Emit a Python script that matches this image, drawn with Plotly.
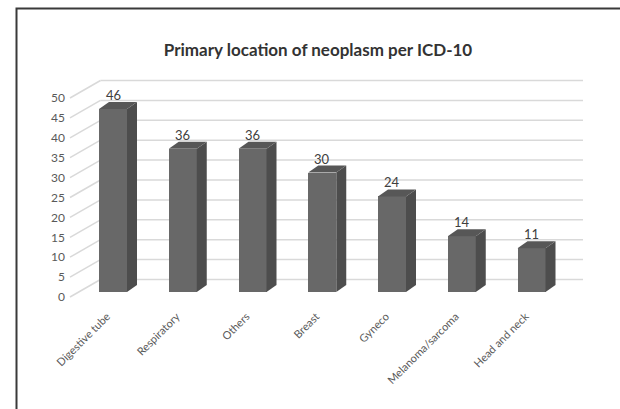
import plotly.graph_objects as go

# --- data -------------------------------------------------------------
categories = ["Digestive tube", "Respiratory", "Others", "Breast",
              "Gyneco", "Melanoma/sarcoma", "Head and neck"]
counts = [46, 36, 36, 30, 24, 14, 11]
y_ticks = [0, 5, 10, 15, 20, 25, 30, 35, 40, 45, 50]

# --- geometry (pseudo-3D column chart drawn on a 2D axis) -------------
W, H = 620, 409
M_L, M_R, M_T, M_B = 66, 30, 70, 108
PX_X = 69.75          # pixels per category
PX_Y = 3.98           # pixels per unit
plot_w = W - M_L - M_R
plot_h = H - M_T - M_B
x_min = -47 / PX_X
x_max = x_min + plot_w / PX_X
y_max = 227 / PX_Y
y_min = y_max - plot_h / PX_Y

bar_w = 28 / PX_X
depth_x = 10 / PX_X
depth_y = 7 / PX_Y
bar_base = 5 / PX_Y           # columns stand slightly behind the front edge
wall_dx = 30.5 / PX_X         # offset of the back wall
wall_dy = 17.5 / PX_Y
floor_left = -43 / PX_X
wall_right = 470 / PX_X

FRONT = "#686868"
SIDE = "#4d4d4d"
TOP = "#575757"
GRID = "#d9d9d9"
TEXT = "#595959"

xs = list(range(len(categories)))
fig = go.Figure()

# back wall and floor gridlines, kept beneath the columns
for v in y_ticks:
    fig.add_shape(type="line", xref="x", yref="y", layer="below",
                  x0=floor_left, y0=v, x1=floor_left + wall_dx, y1=v + wall_dy,
                  line=dict(color=GRID, width=1.5))
    fig.add_shape(type="line", xref="x", yref="y", layer="below",
                  x0=floor_left + wall_dx, y0=v + wall_dy,
                  x1=wall_right, y1=v + wall_dy,
                  line=dict(color=GRID, width=1.5))

# front faces of the columns
fig.add_trace(go.Bar(
    x=xs, y=counts, base=bar_base, width=bar_w,
    marker=dict(color=FRONT, line=dict(width=0)),
    hoverinfo="skip", showlegend=False))

# side and top faces
for x, v in zip(xs, counts):
    r = x + bar_w / 2
    l = x - bar_w / 2
    t = bar_base + v
    fig.add_trace(go.Scatter(
        x=[r, r, r + depth_x, r + depth_x, r],
        y=[bar_base, t, t + depth_y, bar_base + depth_y, bar_base],
        fill="toself", fillcolor=SIDE, mode="lines",
        line=dict(width=0, color=SIDE), hoverinfo="skip", showlegend=False))
    fig.add_trace(go.Scatter(
        x=[l, r, r + depth_x, l + depth_x, l],
        y=[t, t, t + depth_y, t + depth_y, t],
        fill="toself", fillcolor=TOP, mode="lines",
        line=dict(width=0, color=TOP), hoverinfo="skip", showlegend=False))
    fig.add_annotation(
        x=x, y=t + depth_y, text=str(v), showarrow=False,
        yanchor="bottom", yshift=-3,
        font=dict(family="Lato", size=13, color="#404040"))

# outer frame
px2x = lambda p: (p - M_L) / plot_w
py2y = lambda p: 1 - (p - M_T) / plot_h
fig.add_shape(type="rect", xref="paper", yref="paper",
              x0=px2x(16.5), x1=px2x(700), y0=py2y(500), y1=py2y(8.5),
              line=dict(color="#3a3a3a", width=2), layer="above")

fig.update_layout(
    width=W, height=H, autosize=False,
    margin=dict(l=M_L, r=M_R, t=M_T, b=M_B),
    paper_bgcolor="white", plot_bgcolor="white",
    title=dict(text="<b>Primary location of neoplasm per ICD-10</b>",
               x=318 / W, xanchor="center", y=1 - 50 / H, yanchor="middle",
               font=dict(family="Lato", size=17, color="#333333")),
    xaxis=dict(range=[x_min, x_max], tickmode="array",
               tickvals=[x - 6 / PX_X for x in xs], ticktext=categories,
               tickangle=-45, showgrid=False, zeroline=False,
               showline=False, ticks="", ticklabelstandoff=6,
               tickfont=dict(family="Lato", size=11, color=TEXT)),
    yaxis=dict(range=[y_min, y_max], tickmode="array", tickvals=y_ticks,
               showgrid=False, zeroline=False, showline=False, ticks="",
               tickfont=dict(family="Lato", size=12, color=TEXT)),
    bargap=0,
)

fig.write_html("out.html")
